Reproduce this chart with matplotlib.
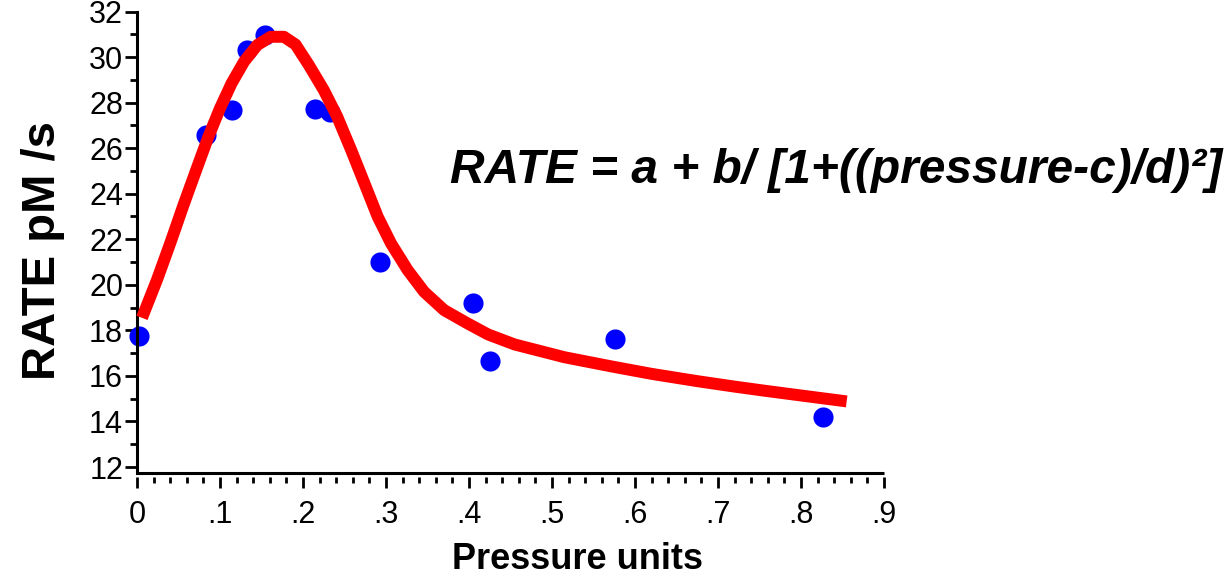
import matplotlib
matplotlib.use("Agg")
import matplotlib.pyplot as plt
from matplotlib.ticker import MultipleLocator

# measured points
pressure = [0.003, 0.083, 0.115, 0.133, 0.154, 0.214, 0.232, 0.293, 0.405, 0.425, 0.576, 0.826]
rate = [17.75, 26.56, 27.66, 30.30, 30.98, 27.73, 27.57, 21.00, 19.18, 16.66, 17.60, 14.20]

# fitted curve
fit_x = [0.006, 0.024, 0.040, 0.056, 0.072, 0.086, 0.100, 0.114, 0.129, 0.145, 0.161,
         0.177, 0.191, 0.207, 0.225, 0.241, 0.258, 0.274, 0.290, 0.306, 0.326, 0.346,
         0.370, 0.398, 0.423, 0.455, 0.515, 0.574, 0.620, 0.675, 0.720, 0.756, 0.800, 0.855]
fit_y = [18.55, 20.21, 21.82, 23.50, 25.11, 26.50, 27.75, 28.85, 29.80, 30.53, 30.89,
         30.89, 30.55, 29.65, 28.55, 27.40, 25.92, 24.46, 22.99, 21.82, 20.65, 19.69,
         18.89, 18.31, 17.82, 17.38, 16.82, 16.40, 16.09, 15.77, 15.53, 15.35, 15.14, 14.88]

x_ticks = [0, 0.1, 0.2, 0.3, 0.4, 0.5, 0.6, 0.7, 0.8, 0.9]
x_tick_labels = ['0', '.1', '.2', '.3', '.4', '.5', '.6', '.7', '.8', '.9']
y_ticks = [12, 14, 16, 18, 20, 22, 24, 26, 28, 30, 32]

equation = 'RATE = a + b/ [1+((pressure-c)/d)\u00b2]'

plt.rcParams['font.family'] = ['Liberation Sans', 'DejaVu Sans']

W, H = 1232, 578
fig = plt.figure(figsize=(W / 100, H / 100), dpi=100)
left, right, top, bottom = 137, 884, 11.5, 472.7
ax = fig.add_axes([left / W, 1 - bottom / H, (right - left) / W, (bottom - top) / H])

ax.plot(pressure, rate, 'o', color='#0000ff', ms=14.5, mec='none', zorder=2, clip_on=False)
ax.plot(fit_x, fit_y, color='#ff0000', lw=8.6, solid_capstyle='butt',
        solid_joinstyle='round', zorder=3, clip_on=False)

ax.set_xlim(0, 0.9)
ax.set_ylim(11.75, 32)

ax.spines['top'].set_visible(False)
ax.spines['right'].set_visible(False)
ax.spines['left'].set_linewidth(2.2)
# ticks sit a little below the x axis line
ax.spines['bottom'].set_position(('outward', 3))
ax.spines['bottom'].set_visible(False)
ax.plot([0, 1], [0, 0], transform=ax.transAxes, color='black', lw=2.2,
        clip_on=False, solid_capstyle='butt')

ax.set_xticks(x_ticks)
ax.set_xticklabels(x_tick_labels)
ax.set_yticks(y_ticks)
ax.xaxis.set_minor_locator(MultipleLocator(0.02))
ax.yaxis.set_minor_locator(MultipleLocator(1))

ax.tick_params(axis='x', which='major', direction='out', length=8, width=2, pad=9, labelsize=22)
ax.tick_params(axis='x', which='minor', direction='out', length=4, width=2)
ax.tick_params(axis='y', which='major', direction='out', length=9, width=2, pad=1, labelsize=22)
ax.tick_params(axis='y', which='minor', direction='out', length=5, width=2)

fig.text(577 / W, 1 - 569 / H, 'Pressure units', fontsize=26, fontweight='bold',
         ha='center', va='baseline')
fig.text(55 / W, 1 - 250 / H, 'RATE pM /s', fontsize=34, fontweight='bold',
         rotation=90, rotation_mode='anchor', ha='center', va='baseline')
fig.text(450 / W, 1 - 183 / H, equation, fontsize=34.5, fontweight='bold',
         fontstyle='italic', ha='left', va='baseline')

fig.savefig('out.png', dpi=100)
